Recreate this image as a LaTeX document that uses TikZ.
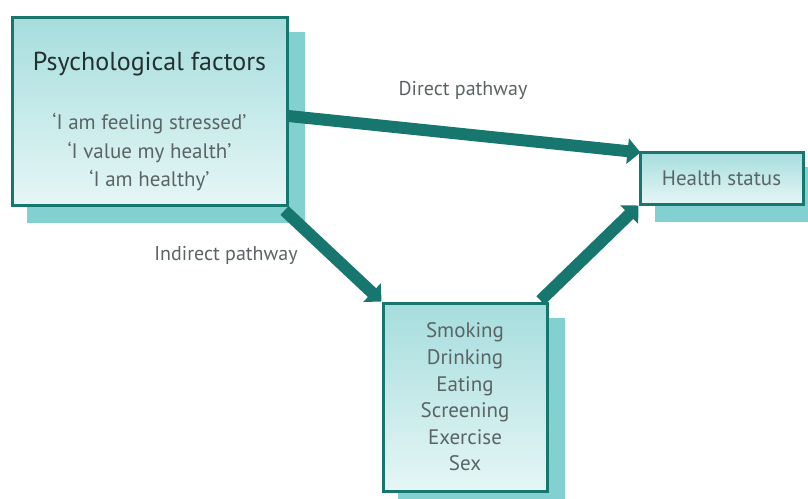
\documentclass[tikz,border=0pt]{standalone}
\usepackage{fontspec}
\setmainfont{PT Sans}
\usetikzlibrary{arrows.meta,backgrounds}
\definecolor{tealdark}{HTML}{17776F}
\definecolor{shadowc}{HTML}{82D0D0}
\definecolor{topc}{HTML}{A6DDDD}
\definecolor{botc}{HTML}{E6F6F6}
\definecolor{titlec}{HTML}{22302F}
\definecolor{greyc}{HTML}{5A6464}
\tikzset{
  box/.style={draw=tealdark, line width=3pt, top color=topc, bottom color=botc,
    align=center, inner sep=0pt, anchor=center},
  shadowbox/.style={fill=shadowc},
  path arrow/.style={draw=tealdark, line width=12pt,
    -{Triangle[length=13pt,width=25pt]}},
  lab/.style={text=greyc, font=\fontsize{20}{24}\selectfont},
  inner/.style={text=greyc, align=center, inner sep=0pt}
}
\begin{document}
\begin{tikzpicture}[x=1pt,y=-1pt]
\useasboundingbox (0,0) rectangle (808,498);
\node[box, minimum width=275pt, minimum height=188pt] (psych) at (149.5,111) {};
\node[inner, text=titlec, font=\fontsize{26}{30}\selectfont] (title) at (149.5,64) {Psychological factors};
\node[inner, font=\fontsize{21}{28.5}\selectfont] (quotes) at (149.5,152) {‘I am feeling stressed’\\‘I value my health’\\‘I am healthy’};
\node[box, minimum width=163pt, minimum height=52pt, text=greyc, font=\fontsize{21}{24}\selectfont] (health) at (721.5,178) {Health status};
\node[box, minimum width=164pt, minimum height=188pt, text=greyc, font=\fontsize{21}{26.6}\selectfont] (beh) at (465,397)
  {Smoking\\Drinking\\Eating\\Screening\\Exercise\\Sex};
\begin{scope}[on background layer]
  \foreach \n in {psych,health,beh}
    \fill[shadowbox] ([shift={(16,16)}]\n.north west) rectangle ([shift={(16,16)}]\n.south east);
\end{scope}
\draw[path arrow] ([yshift=-5pt]psych.east) -- ([xshift=2pt,yshift=-2pt]health.north west);
\draw[path arrow] ([xshift=-4pt,yshift=-4pt]psych.south east) -- (beh.north west);
\draw[path arrow] ([xshift=-8pt,yshift=1pt]beh.north east) -- (health.south west);
\node[lab] (direct) at (463,90) {Direct pathway};
\node[lab] (indirect) at (226,255) {Indirect pathway};
\end{tikzpicture}
\end{document}
